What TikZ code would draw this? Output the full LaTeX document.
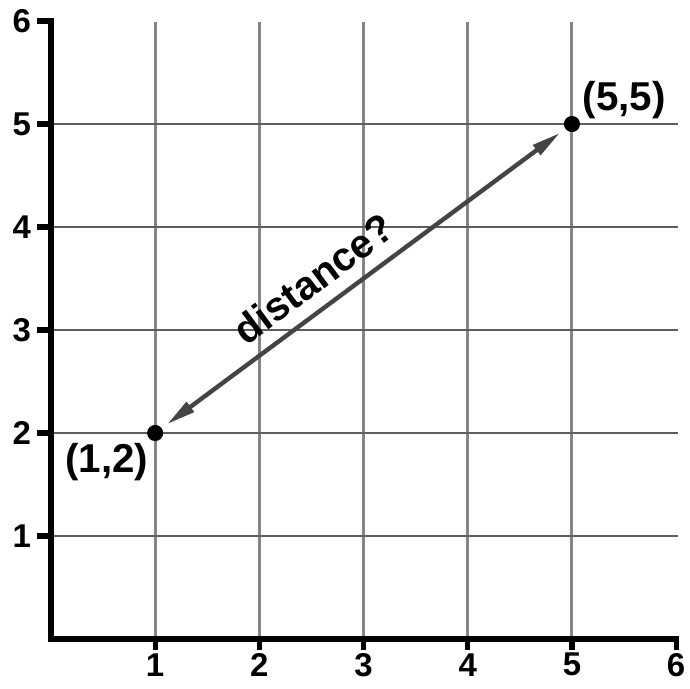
\documentclass[tikz,border=0pt]{standalone}
\usepackage{fontspec}
\setmainfont{Liberation Sans}
\usetikzlibrary{arrows.meta}
\definecolor{vgrid}{HTML}{858585}
\definecolor{hgrid}{HTML}{5E5E5E}
\definecolor{arrowgray}{HTML}{444444}
\begin{document}
\begin{tikzpicture}[x=1cm,y=0.9885cm,
  axisline/.style={line width=1.4pt,black},
  vline/.style={line width=0.8pt,vgrid},
  hline/.style={line width=0.8pt,hgrid},
  ticklabel/.style={font=\fontsize{9}{10}\selectfont\bfseries,inner sep=0pt},
  ptlabel/.style={font=\fontsize{11}{12}\selectfont\bfseries,inner sep=0pt},
  dotnode/.style={circle,fill=black,inner sep=0pt,minimum size=4.4pt},
  distarrow/.style={line width=1.2pt,arrowgray,{Triangle[length=8pt,width=3.2pt]}-{Triangle[length=8pt,width=3.2pt]},shorten >=1.6pt,shorten <=1.6pt}]
\useasboundingbox (-0.489,-0.485) rectangle (6.133,6.204);
% grid
\foreach \i in {1,...,5} {
  \draw[vline] (\i,0) -- (\i,5.99);
}
\foreach \j in {1,...,5} {
  \draw[hline] (0,\j) -- (6.02,\j);
}
% axes
\draw[axisline] (-0.13,6) -- (0,6) -- (0,0) -- (6,0) -- (6,-0.11);
\foreach \j in {1,...,5} {
  \draw[axisline] (-0.13,\j) -- (0,\j);
}
\foreach \i in {1,...,5} {
  \draw[axisline] (\i,0) -- (\i,-0.11);
}
% tick labels
\foreach \j in {1,...,6} {
  \node[ticklabel] (yl\j) at (-0.28,\j) {\j};
}
\foreach \i in {1,...,6} {
  \node[ticklabel] (xl\i) at (\i,-0.25) {\i};
}
% points
\node[dotnode] (a) at (1,2) {};
\node[dotnode] (b) at (5,5) {};
\node[ptlabel] (al) at (0.537,1.72) {(1,2)};
\node[ptlabel] (bl) at (5.50,5.23) {(5,5)};
% arrow
\draw[distarrow] (a) -- node[pos=0.42,sloped,above=1.5pt,black,font=\fontsize{11}{12}\selectfont\bfseries,inner sep=2pt] (dl) {distance?} (b);
\end{tikzpicture}
\end{document}
